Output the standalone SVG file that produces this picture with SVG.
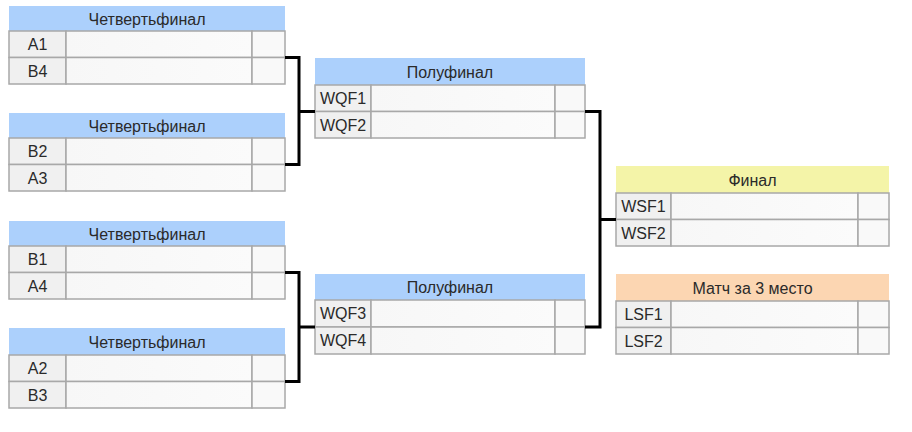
<svg xmlns="http://www.w3.org/2000/svg" width="912" height="432" viewBox="0 0 912 432">
<defs>
<linearGradient id="cellg" x1="0" y1="0" x2="1" y2="0">
<stop offset="0" stop-color="#f7f7f7"/><stop offset="1" stop-color="#fbfbfb"/>
</linearGradient>
<style>
text{font-family:"Liberation Sans",Arial,sans-serif;font-size:16px;fill:#2a2a2a;}
.t{text-anchor:middle;}
.hq{fill:#acd0fc;}
.hf{fill:#f4f4a8;}
.h3{fill:#fcd6b2;}
.lab{fill:#f0f0f0;stroke:#a8a8a8;stroke-width:1.5;}
.mid{fill:url(#cellg);stroke:#a8a8a8;stroke-width:1.5;}
.sc{fill:#f9f9f9;stroke:#a8a8a8;stroke-width:1.5;}
.con{fill:none;stroke:#000;stroke-width:3;}
</style>
</defs>

<g id="qf1">
<rect class="hq" x="9" y="6" width="276" height="25"/>
<text class="t" x="147" y="24.5">Четвертьфинал</text>
<rect class="lab" x="9" y="31" width="57" height="26.5"/><rect class="mid" x="66" y="31" width="186" height="26.5"/><rect class="sc" x="252" y="31" width="33" height="26.5"/>
<rect class="lab" x="9" y="57.5" width="57" height="26.5"/><rect class="mid" x="66" y="57.5" width="186" height="26.5"/><rect class="sc" x="252" y="57.5" width="33" height="26.5"/>
<text class="t" x="37.5" y="50">A1</text><text class="t" x="37.5" y="76.5">B4</text>
</g>
<g id="qf2">
<rect class="hq" x="9" y="113" width="276" height="25"/>
<text class="t" x="147" y="131.5">Четвертьфинал</text>
<rect class="lab" x="9" y="138" width="57" height="26.5"/><rect class="mid" x="66" y="138" width="186" height="26.5"/><rect class="sc" x="252" y="138" width="33" height="26.5"/>
<rect class="lab" x="9" y="164.5" width="57" height="26.5"/><rect class="mid" x="66" y="164.5" width="186" height="26.5"/><rect class="sc" x="252" y="164.5" width="33" height="26.5"/>
<text class="t" x="37.5" y="157">B2</text><text class="t" x="37.5" y="183.5">A3</text>
</g>
<g id="qf3">
<rect class="hq" x="9" y="221" width="276" height="25"/>
<text class="t" x="147" y="239.5">Четвертьфинал</text>
<rect class="lab" x="9" y="246" width="57" height="26.5"/><rect class="mid" x="66" y="246" width="186" height="26.5"/><rect class="sc" x="252" y="246" width="33" height="26.5"/>
<rect class="lab" x="9" y="272.5" width="57" height="26.5"/><rect class="mid" x="66" y="272.5" width="186" height="26.5"/><rect class="sc" x="252" y="272.5" width="33" height="26.5"/>
<text class="t" x="37.5" y="265">B1</text><text class="t" x="37.5" y="291.5">A4</text>
</g>
<g id="qf4">
<rect class="hq" x="9" y="328" width="276" height="27"/>
<text class="t" x="147" y="347.5">Четвертьфинал</text>
<rect class="lab" x="9" y="355" width="57" height="26.5"/><rect class="mid" x="66" y="355" width="186" height="26.5"/><rect class="sc" x="252" y="355" width="33" height="26.5"/>
<rect class="lab" x="9" y="381.5" width="57" height="26.5"/><rect class="mid" x="66" y="381.5" width="186" height="26.5"/><rect class="sc" x="252" y="381.5" width="33" height="26.5"/>
<text class="t" x="37.5" y="374">A2</text><text class="t" x="37.5" y="400.5">B3</text>
</g>

<g id="sf1">
<rect class="hq" x="315" y="58" width="270" height="27"/>
<text class="t" x="450" y="77.5">Полуфинал</text>
<rect class="lab" x="315" y="85" width="56" height="26.5"/><rect class="mid" x="371" y="85" width="184" height="26.5"/><rect class="sc" x="555" y="85" width="30" height="26.5"/>
<rect class="lab" x="315" y="111.5" width="56" height="26.5"/><rect class="mid" x="371" y="111.5" width="184" height="26.5"/><rect class="sc" x="555" y="111.5" width="30" height="26.5"/>
<text class="t" x="343" y="104">WQF1</text><text class="t" x="343" y="130.5">WQF2</text>
</g>
<g id="sf2">
<rect class="hq" x="315" y="274" width="270" height="26"/>
<text class="t" x="450" y="293">Полуфинал</text>
<rect class="lab" x="315" y="300" width="56" height="27"/><rect class="mid" x="371" y="300" width="184" height="27"/><rect class="sc" x="555" y="300" width="30" height="27"/>
<rect class="lab" x="315" y="327" width="56" height="27"/><rect class="mid" x="371" y="327" width="184" height="27"/><rect class="sc" x="555" y="327" width="30" height="27"/>
<text class="t" x="343" y="319">WQF3</text><text class="t" x="343" y="346">WQF4</text>
</g>

<g id="final">
<rect class="hf" x="616" y="166" width="273" height="27"/>
<text class="t" x="752.5" y="185.5">Финал</text>
<rect class="lab" x="616" y="193" width="55" height="26.5"/><rect class="mid" x="671" y="193" width="187" height="26.5"/><rect class="sc" x="858" y="193" width="31" height="26.5"/>
<rect class="lab" x="616" y="219.5" width="55" height="26.5"/><rect class="mid" x="671" y="219.5" width="187" height="26.5"/><rect class="sc" x="858" y="219.5" width="31" height="26.5"/>
<text class="t" x="643.5" y="212">WSF1</text><text class="t" x="643.5" y="238.5">WSF2</text>
</g>
<g id="third">
<rect class="h3" x="616" y="274" width="273" height="27"/>
<text class="t" x="752.5" y="293.5">Матч за 3 место</text>
<rect class="lab" x="616" y="301" width="55" height="26.5"/><rect class="mid" x="671" y="301" width="187" height="26.5"/><rect class="sc" x="858" y="301" width="31" height="26.5"/>
<rect class="lab" x="616" y="327.5" width="55" height="26.5"/><rect class="mid" x="671" y="327.5" width="187" height="26.5"/><rect class="sc" x="858" y="327.5" width="31" height="26.5"/>
<text class="t" x="643.5" y="320">LSF1</text><text class="t" x="643.5" y="346.5">LSF2</text>
</g>

<g id="connectors">
<path class="con" d="M285 57.5H299V164.5H285M299 111.5H315"/>
<path class="con" d="M285 272.5H299V381.5H285M299 327H315"/>
<path class="con" d="M585 111.5H600V327H585M600 219.5H616"/>
</g>
</svg>
